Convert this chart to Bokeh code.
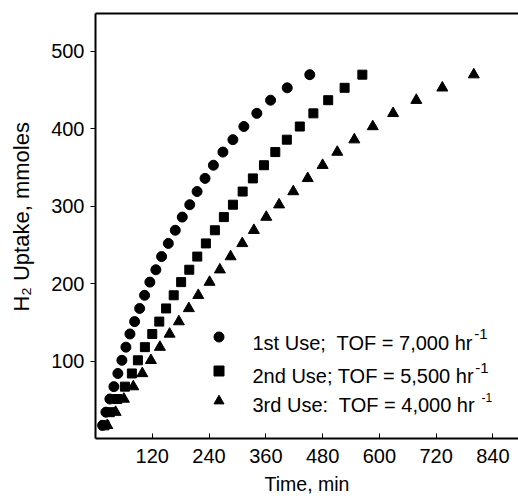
from bokeh.plotting import figure
from bokeh.models import FixedTicker, LinearAxis, Range1d, Label, Legend, LegendItem
from bokeh.embed import file_html
from bokeh.resources import INLINE

# Hydrogen uptake (mmoles) recorded at the same uptake levels for every reuse
uptake = [17, 34, 51, 67, 84, 101, 118, 135, 151, 168, 185, 202, 218, 235,
          252, 269, 286, 302, 319, 336, 353, 370, 386, 403, 420, 437, 453, 470]

# Time (min) at which each uptake level was reached
first_use = [15, 22, 30.4, 38.9, 47.3, 55.8, 64.3, 72.8, 82.7, 93.3, 103.7, 114.9,
             127.6, 139.7, 153.9, 168.6, 183.4, 199.2, 214.7, 231.5, 249.2, 269.3,
             290.4, 313.6, 341.0, 370.0, 405.2, 452.9]
second_use = [19, 30.4, 46.1, 62.2, 76.9, 89.6, 104.4, 120.0, 134.8, 149.2, 165.3,
              181, 198.2, 215.1, 233.3, 252.3, 271.3, 290.5, 311, 332.6, 356, 380,
              404.4, 431.8, 460.5, 491.8, 526.5, 564]
third_use = [24.9, 42.5, 60.0, 79.9, 98.9, 117.1, 136.1, 156.6, 176.2, 197.3, 217.2,
             241.1, 262.9, 285.5, 310.2, 334.7, 360.9, 388, 418, 448.5, 480, 511,
             547, 586, 629, 678, 733, 799.5]

x_ticks = [120, 240, 360, 480, 600, 720, 840]
y_ticks = [100, 200, 300, 400, 500]

legend_text = ["1st Use;\u00a0 TOF = 7,000 hr",
               "2nd Use; TOF = 5,500 hr",
               "3rd Use:\u00a0 TOF = 4,000 hr"]
legend_sup = ["-1", "-1", "-1"]

FONT = "Liberation Sans"

p = figure(width=518, height=498, output_backend="svg", toolbar_location=None,
           title=None, x_range=Range1d(0, 894), y_range=Range1d(0, 549),
           min_border_left=95, min_border_right=0, min_border_top=13,
           min_border_bottom=60)
p.outline_line_color = None
p.grid.visible = False

# bottom axis: inward ticks
xa = p.xaxis[0]
xa.ticker = FixedTicker(ticks=x_ticks)
xa.axis_line_width = 2
xa.axis_line_color = "black"
xa.major_tick_in = 5
xa.major_tick_out = 0
xa.major_tick_line_color = "black"
xa.minor_tick_line_color = None
xa.major_label_text_font = FONT
xa.major_label_text_font_size = "20px"
xa.major_label_text_color = "black"
xa.major_label_standoff = 10
xa.axis_label = "Time, min"
xa.axis_label_text_font = FONT
xa.axis_label_text_font_size = "19.5px"
xa.axis_label_text_font_style = "normal"
xa.axis_label_text_color = "black"
xa.axis_label_standoff = 7

# left axis: outward ticks
ya = p.yaxis[0]
ya.ticker = FixedTicker(ticks=y_ticks)
ya.axis_line_width = 2
ya.axis_line_color = "black"
ya.major_tick_in = 0
ya.major_tick_out = 5
ya.major_tick_line_color = "black"
ya.minor_tick_line_color = None
ya.major_label_text_font = FONT
ya.major_label_text_font_size = "20px"
ya.major_label_text_color = "black"
ya.major_label_standoff = 6
ya.axis_label = "\u00a0\u00a0\u00a0H\u2082 Uptake, mmoles"
ya.axis_label_text_font = FONT
ya.axis_label_text_font_size = "22px"
ya.axis_label_text_font_style = "normal"
ya.axis_label_text_color = "black"
ya.axis_label_standoff = 14

# plain top border line
top = LinearAxis(ticker=FixedTicker(ticks=[]), axis_line_width=2, axis_line_color="black",
                 major_tick_in=0, major_tick_out=0, minor_tick_in=0, minor_tick_out=0,
                 major_label_text_font_size="0px")
p.add_layout(top, "above")

r1 = p.scatter(first_use, uptake, marker="circle", size=10, color="black")
r2 = p.scatter(second_use, uptake, marker="square", size=9, color="black")
r3 = p.scatter(third_use, uptake, marker="triangle", size=11, color="black")

# legend markers, one row per reuse
rows_y = [89.5, 54.8, 25.5]
for r, ly in zip([r1, r2, r3], rows_y):
    lg = Legend(items=[LegendItem(label="\u00a0", renderers=[r])],
                location=(110.5, ly), padding=0, margin=0, spacing=0,
                glyph_width=25, glyph_height=25, label_height=25,
                label_standoff=0, label_text_font_size="1px",
                border_line_color=None, background_fill_alpha=0)
    p.add_layout(lg)

# legend texts (vertically centred) with superscript exponents
text_y = [95.3, 63, 34]
text_end = [377.7, 378.8, 379.9]
sup_dx = [1, 1, 6]
sup_y = [105, 71, 40.7]
sup_size = ["15px", "15px", "12px"]
for t, ty, te, s, dx, sy, fs in zip(legend_text, text_y, text_end, legend_sup,
                                     sup_dx, sup_y, sup_size):
    p.add_layout(Label(x=157, y=ty, x_units="screen", y_units="screen", text=t,
                       text_font=FONT, text_font_size="20px", text_color="black",
                       text_baseline="middle", text_align="left"))
    p.add_layout(Label(x=te + dx, y=sy, x_units="screen", y_units="screen",
                       text=s, text_font=FONT, text_font_size=fs, text_color="black",
                       text_baseline="middle", text_align="left"))

open("out.html", "w").write(file_html(p, INLINE))
